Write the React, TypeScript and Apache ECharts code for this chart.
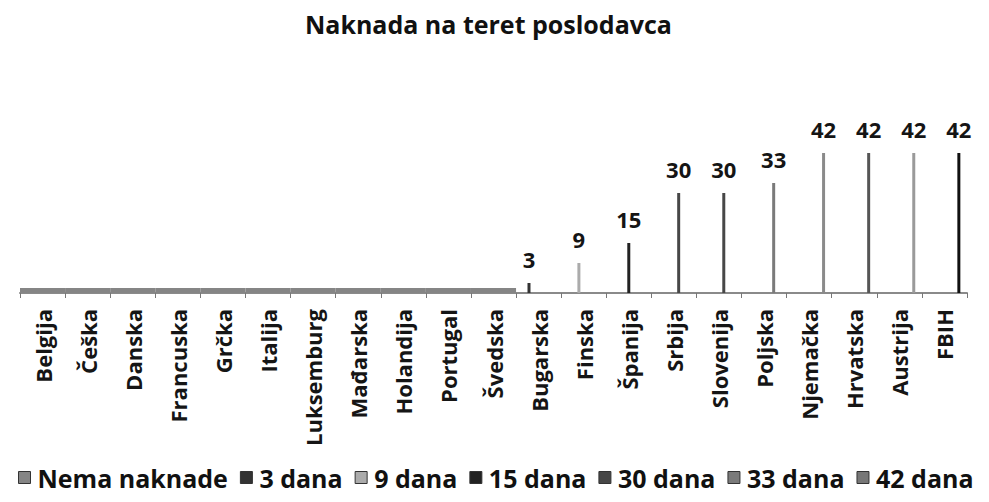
import React, { useEffect, useRef } from "react";
import * as echarts from "echarts";

const countries = [
  "Belgija", "Češka", "Danska", "Francuska", "Grčka", "Italija", "Luksemburg",
  "Mađarska", "Holandija", "Portugal", "Švedska", "Bugarska", "Finska", "Španija",
  "Srbija", "Slovenija", "Poljska", "Njemačka", "Hrvatska", "Austrija", "FBIH",
];
const daysPaid = [0, 0, 0, 0, 0, 0, 0, 0, 0, 0, 0, 3, 9, 15, 30, 30, 33, 42, 42, 42, 42];
const groupNames = ["Nema naknade", "3 dana", "9 dana", "15 dana", "30 dana", "33 dana", "42 dana"];
const groupDays = [0, 3, 9, 15, 30, 33, 42];

const groupColors = ["#858585", "#333333", "#ababab", "#222222", "#474747", "#7a7a7a", "#777777"];
const pointColors: Record<string, string> = {
  "Njemačka": "#8a8a8a",
  "Hrvatska": "#555555",
  "Austrija": "#9a9a9a",
  FBIH: "#111111",
};

const FONT = "'Open Sans', 'Noto Sans', sans-serif";

export default function App() {
  const ref = useRef<HTMLDivElement>(null);
  useEffect(() => {
    if (!ref.current) return;
    const chart = echarts.init(ref.current, null, { renderer: "svg" });

    const clusterSeries = groupNames.map((name, k) => ({
      name,
      type: "bar",
      xAxisIndex: 0,
      barWidth: 3,
      barGap: "60%",
      itemStyle: { color: groupColors[k] },
      label: {
        show: k > 0,
        position: "top",
        distance: 13,
        formatter: "{c}",
        fontFamily: FONT,
        fontSize: 22,
        fontWeight: "bold",
        color: "#151515",
      },
      data: k === 0
        ? countries.map(() => "-")
        : daysPaid.map((v, i) =>
            v === groupDays[k]
              ? pointColors[countries[i]]
                ? { value: v, itemStyle: { color: pointColors[countries[i]] } }
                : v
              : "-"
          ),
    }));

    const bandSeries = {
      name: groupNames[0],
      type: "bar",
      xAxisIndex: 1,
      barWidth: "100%",
      barMinHeight: 5,
      itemStyle: { color: groupColors[0] },
      data: daysPaid.map((v) => (v === groupDays[0] ? v : "-")),
    };

    chart.setOption({
      animation: false,
      backgroundColor: "#ffffff",
      title: {
        text: "Naknada na teret poslodavca",
        left: 300,
        top: 6,
        textStyle: { fontFamily: FONT, fontSize: 25, fontWeight: "bold", color: "#111" },
      },
      legend: {
        data: groupNames,
        left: 18,
        top: 465,
        padding: 0,
        itemGap: 12,
        itemWidth: 12,
        itemHeight: 12,
        icon: "rect",
        itemStyle: { borderColor: "#333", borderWidth: 1 },
        textStyle: {
          fontFamily: FONT,
          fontSize: 25,
          fontWeight: "bold",
          color: "#111",
          padding: [0, 0, 0, 2],
        },
      },
      grid: { left: 20, right: 22, top: 153, bottom: 209, containLabel: false },
      xAxis: [
        {
          type: "category",
          data: countries,
          axisLine: { show: true, lineStyle: { color: "#8a8a8a", width: 2 } },
          axisTick: { show: true, length: 5, lineStyle: { color: "#777" } },
          axisLabel: {
            interval: 0,
            rotate: 90,
            margin: 16,
            fontFamily: FONT,
            fontSize: 22,
            fontWeight: "bold",
            color: "#151515",
          },
        },
        { type: "category", data: countries, show: false },
      ],
      yAxis: {
        type: "value",
        min: 0,
        max: 42,
        show: false,
        splitLine: { show: false },
      },
      series: [...clusterSeries, bandSeries],
    });

    return () => chart.dispose();
  }, []);

  return (
    <div
      ref={ref}
      style={{ position: "absolute", left: 0, top: 0, width: 989, height: 502 }}
    />
  );
}
